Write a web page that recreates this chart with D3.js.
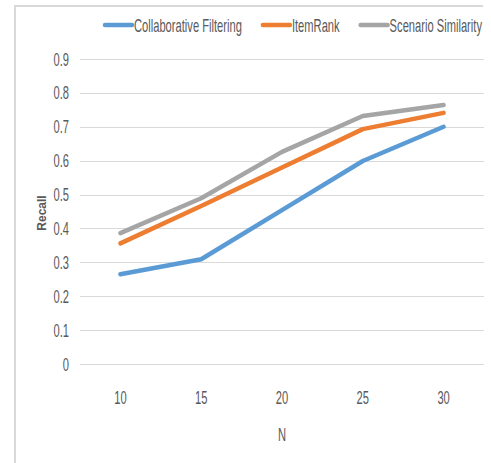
<!DOCTYPE html>
<html>
<head>
<meta charset="utf-8">
<script src="https://cdn.jsdelivr.net/npm/d3@7"></script>
<style>
  html, body { margin: 0; padding: 0; background: #fff; }
  svg { display: block; }
  text { font-family: "Liberation Sans", Arial, sans-serif; fill: #595959; }
</style>
</head>
<body>
<script>
// Recall at top-N for three recommenders
const nValues = [10, 15, 20, 25, 30];
const collaborativeFiltering = [0.265, 0.309, 0.454, 0.599, 0.700];
const itemRank = [0.356, 0.466, 0.580, 0.693, 0.741];
const scenarioSimilarity = [0.386, 0.489, 0.626, 0.732, 0.764];
const seriesNames = ["Collaborative Filtering", "ItemRank", "Scenario Similarity"];
const seriesColors = ["#5B9BD5", "#ED7D31", "#A5A5A5"];
const yTicks = [0, 0.1, 0.2, 0.3, 0.4, 0.5, 0.6, 0.7, 0.8, 0.9];

const series = [collaborativeFiltering, itemRank, scenarioSimilarity].map((vals, i) => ({
  name: seriesNames[i], color: seriesColors[i],
  points: vals.map((v, j) => ({ n: nValues[j], v }))
}));

const W = 491, H = 463;
const NARROW = 0.62; // horizontal squeeze for the condensed label face
const FONT = "18px";
const plot = { left: 80, right: 484, top: 59, bottom: 364 };

const svg = d3.select("body").append("svg").attr("width", W).attr("height", H);

// outer frame (top and left edges)
svg.append("line").attr("x1", 14).attr("x2", 483).attr("y1", 6).attr("y2", 6)
  .attr("stroke", "#d9d9d9").attr("stroke-width", 2);
svg.append("line").attr("x1", 15).attr("x2", 15).attr("y1", 5).attr("y2", H)
  .attr("stroke", "#d9d9d9").attr("stroke-width", 2);

const x = d3.scaleBand().domain(nValues).range([plot.left, plot.right]);
const y = d3.scaleLinear().domain([0, 0.9]).range([plot.bottom, plot.top]);

function narrowText(sel, px, py, str, anchor) {
  return sel.append("text")
    .attr("transform", `translate(${px},${py}) scale(${NARROW},1)`)
    .attr("text-anchor", anchor || "start")
    .style("font-size", FONT)
    .text(str);
}

// gridlines + y tick labels
const yAxis = svg.append("g");
yTicks.forEach(t => {
  yAxis.append("line")
    .attr("x1", plot.left).attr("x2", plot.right)
    .attr("y1", Math.round(y(t)) + 0.5).attr("y2", Math.round(y(t)) + 0.5)
    .attr("stroke", "#d9d9d9").attr("stroke-width", 1);
  narrowText(yAxis, 69, y(t) + 6.5, d3.format("~g")(t), "end");
});

// x tick labels
const xAxis = svg.append("g");
nValues.forEach(n => {
  narrowText(xAxis, x(n) + x.bandwidth() / 2, 403.5, String(n), "middle");
});

// axis titles
narrowText(svg, (plot.left + plot.right) / 2, 440.5, "N", "middle");
svg.append("text")
  .attr("transform", "translate(46,213) rotate(-90)")
  .attr("text-anchor", "middle")
  .style("font-size", "12px").style("font-weight", "bold")
  .text("Recall");

// series lines
const line = d3.line()
  .x(d => x(d.n) + x.bandwidth() / 2)
  .y(d => y(d.v));
svg.append("g").selectAll("path").data(series).join("path")
  .attr("d", d => line(d.points))
  .attr("fill", "none")
  .attr("stroke", d => d.color)
  .attr("stroke-width", 4.5)
  .attr("stroke-linejoin", "round")
  .attr("stroke-linecap", "round");

// legend
const legend = svg.append("g");
let lx = 105;
const ly = 25;
series.forEach(s => {
  legend.append("line")
    .attr("x1", lx).attr("x2", lx + 27).attr("y1", ly).attr("y2", ly)
    .attr("stroke", s.color).attr("stroke-width", 4.5).attr("stroke-linecap", "round");
  const t = narrowText(legend, lx + 29, ly + 6.5, s.name);
  const w = t.node().getComputedTextLength() * NARROW;
  lx += 29 + w + 21;
});
</script>
</body>
</html>
